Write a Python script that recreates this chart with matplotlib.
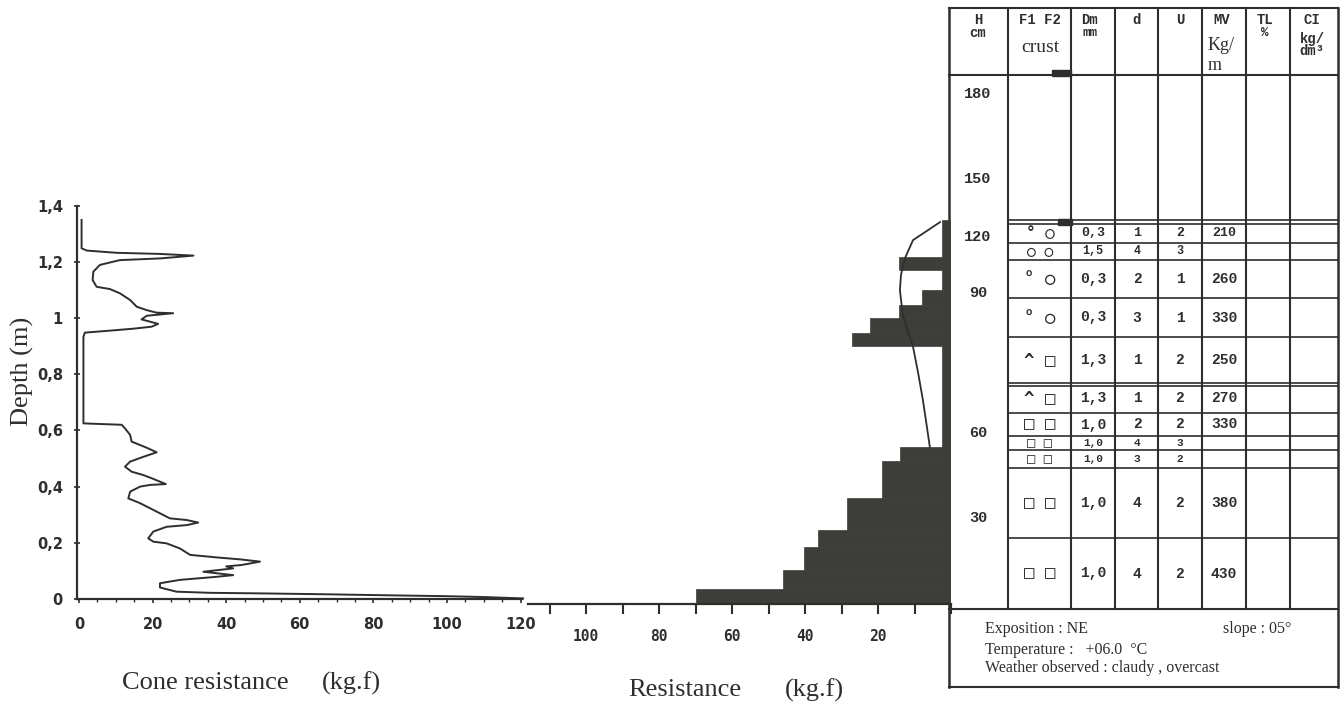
import matplotlib.pyplot as plt
from matplotlib.patches import Rectangle
from matplotlib.ticker import MultipleLocator

plt.rcParams['font.family'] = ['DejaVu Sans']

# cone penetrometer trace (resistance kg.f, depth m)
cone_res = [0.7, 0.7, 2.1, 10.2, 22.0, 31.1, 22.0, 11.1, 5.7, 3.9, 3.7, 4.8, 8.4, 11.1,
            13.9, 15.7, 18.4, 21.1, 25.6, 18.4, 17.0, 19.3, 21.5, 19.7, 14.8, 8.4, 1.6,
            1.2, 1.2, 11.6, 12.5, 13.9, 14.3, 16.6, 18.8, 21.1, 17.5, 13.9, 12.5, 14.3,
            17.5, 19.7, 23.6, 19.3, 16.6, 13.9, 13.4, 16.6, 19.3, 22.0, 24.7, 29.3, 32.4,
            29.3, 23.8, 20.2, 18.8, 20.2, 23.8, 27.4, 30.2, 37.4, 43.8, 49.2, 44.2, 40.0,
            41.9, 33.8, 41.9, 37.4, 27.4, 22.0, 22.0, 26.5, 35.6, 49.2, 66.0, 85.0, 100.0,
            110.0, 120.7]
cone_depth = [1.349, 1.248, 1.240, 1.232, 1.228, 1.222, 1.212, 1.206, 1.189, 1.165, 1.135,
              1.111, 1.103, 1.088, 1.064, 1.040, 1.028, 1.019, 1.017, 1.008, 0.995, 0.987,
              0.979, 0.969, 0.962, 0.955, 0.948, 0.933, 0.625, 0.620, 0.607, 0.584, 0.560,
              0.548, 0.536, 0.522, 0.506, 0.489, 0.471, 0.453, 0.441, 0.430, 0.409, 0.406,
              0.400, 0.382, 0.358, 0.341, 0.323, 0.305, 0.287, 0.281, 0.272, 0.263, 0.257,
              0.240, 0.216, 0.204, 0.198, 0.180, 0.157, 0.148, 0.141, 0.133, 0.121, 0.116,
              0.109, 0.097, 0.085, 0.079, 0.068, 0.056, 0.041, 0.026, 0.022, 0.020, 0.017,
              0.013, 0.010, 0.007, 0.002]

# ram resistance layers
layer_bottom = [0.000, 0.053, 0.121, 0.203, 0.263, 0.377, 0.509, 0.559, 0.918, 0.964,
                1.018, 1.064, 1.117, 1.189, 1.235]
layer_top = layer_bottom[1:] + [1.367]
layer_res = [70, 46, 40.3, 36.4, 28.5, 18.9, 14.0, 2.5, 27.1, 22.2, 14.2, 7.9, 2.5, 14.2, 2.5]

# line drawn over the ram profile
curve_res = [3.0, 10.4, 12.6, 13.7, 14.0, 13.2, 10.4, 9.0, 7.7, 6.6, 5.8]
curve_depth = [1.359, 1.295, 1.231, 1.171, 1.117, 1.028, 0.915, 0.822, 0.726, 0.630, 0.559]

depth_ticks = [0, 0.2, 0.4, 0.6, 0.8, 1.0, 1.2, 1.4]
depth_ticklabels = ['0', '0,2', '0,4', '0,6', '0,8', '1', '1,2', '1,4']
cone_ticks = [0, 20, 40, 60, 80, 100, 120]
ram_ticks = [20, 40, 60, 80, 100]

# stratigraphy table
h_marks = ['180', '150', '120', '90', '60', '30']
crust = ['° ○', '○ ○', '° ○', '° ○', '^ □', '^ □', '□ □', '□ □', '□ □', '□ □', '□ □']
dm_vals = ['0,3', '1,5', '0,3', '0,3', '1,3', '1,3', '1,0', '1,0', '1,0', '1,0', '1,0']
d_vals = ['1', '4', '2', '3', '1', '1', '2', '4', '3', '4', '4']
u_vals = ['2', '3', '1', '1', '2', '2', '2', '3', '2', '2', '2']
mv_vals = ['210', '', '260', '330', '250', '270', '330', '', '', '380', '430']

W, H = 1342, 702
INK = '#2e2e2c'
BAR = '#3d3d39'


def rect(x0, y0, x1, y1):
    # pixel box (top-left origin) -> figure fraction
    return [x0 / W, 1 - y1 / H, (x1 - x0) / W, (y1 - y0) / H]


fig = plt.figure(figsize=(W / 100, H / 100), dpi=100)

# ---- table (drawn in pixel units) ----
tb = fig.add_axes([0, 0, 1, 1])
tb.set_xlim(0, W)
tb.set_ylim(H, 0)
tb.axis('off')

tx0, tx1, ty0, ty1, foot1 = 949, 1338, 8, 609, 687
cols = [1008, 1071, 1115, 1158, 1202, 1246, 1290]
row_edges = [224, 243, 260, 298, 337, 383, 413, 436, 450, 468, 538]
row_fs = [9.5, 8.5, 10.5, 10.5, 10.5, 10.5, 10.5, 8, 8, 10.5, 10.5]
extra_lines = [220, 386]
lw = 1.5
tb.plot([tx0, tx0], [ty0, foot1], color=INK, lw=1.8)
tb.plot([tx1, tx1], [ty0, foot1], color=INK, lw=1.8)
tb.plot([tx0, tx1], [ty0, ty0], color=INK, lw=lw)
tb.plot([tx0, tx1], [75, 75], color=INK, lw=lw)
tb.plot([tx0, tx1], [ty1, ty1], color=INK, lw=lw)
tb.plot([tx0, tx1], [foot1, foot1], color=INK, lw=lw)
for c in cols:
    tb.plot([c, c], [ty0, ty1], color=INK, lw=lw)
for y in row_edges + extra_lines:
    tb.plot([cols[0], tx1], [y, y], color=INK, lw=1.2)
tb.add_patch(Rectangle((1052, 70), 19, 6, color=INK))
tb.add_patch(Rectangle((1058, 219), 14, 6, color=INK))

mono = dict(family='Liberation Mono', weight='bold', color=INK, ha='center', va='center')
serif = dict(family='Liberation Serif', color=INK, va='center')
tb.text(978, 20, 'H', fontsize=10, **mono)
tb.text(978, 33, 'cm', fontsize=10, **mono)
tb.text(1040, 20, 'F1 F2', fontsize=10, **mono)
tb.text(1040, 47, 'crust', fontsize=14, ha='center', **serif)
tb.text(1090, 20, 'Dm', fontsize=10, **mono)
tb.text(1090, 33, 'mm', fontsize=9, **mono)
tb.text(1137, 20, 'd', fontsize=10, **mono)
tb.text(1180, 20, 'U', fontsize=10, **mono)
tb.text(1222, 20, 'MV', fontsize=10, **mono)
tb.text(1208, 45, 'Kg/', fontsize=13, ha='left', **serif)
tb.text(1208, 66, 'm', fontsize=13, ha='left', **serif)
tb.text(1265, 20, 'TL', fontsize=10, **mono)
tb.text(1265, 33, '%', fontsize=9, **mono)
tb.text(1312, 20, 'CI', fontsize=10, **mono)
tb.text(1312, 39, 'kg/', fontsize=10, **mono)
tb.text(1312, 51, 'dm³', fontsize=10, **mono)

h_pos = [94, 179, 237, 293, 433, 518]
for lab, y in zip(h_marks, h_pos):
    tb.text(978, y, lab, fontsize=11, **mono)

row_mid = [(a + b) / 2 for a, b in zip(row_edges, row_edges[1:] + [ty1])]
for i, y in enumerate(row_mid):
    fs = row_fs[i]
    tb.text(1040, y, crust[i], fontsize=fs + 2, family=['DejaVu Sans Mono', 'DejaVu Sans'],
            weight='bold', color=INK, ha='center', va='center')
    tb.text(1093, y, dm_vals[i], fontsize=fs, **mono)
    tb.text(1137, y, d_vals[i], fontsize=fs, **mono)
    tb.text(1180, y, u_vals[i], fontsize=fs, **mono)
    tb.text(1224, y, mv_vals[i], fontsize=fs, **mono)

tb.text(985, 629, 'Exposition : NE', fontsize=11.5, ha='left', **serif)
tb.text(1223, 629, 'slope : 05°', fontsize=11.5, ha='left', **serif)
tb.text(985, 650, 'Temperature :   +06.0  °C', fontsize=11.5, ha='left', **serif)
tb.text(985, 668, 'Weather observed : claudy , overcast', fontsize=11.5, ha='left', **serif)

# ---- cone resistance profile ----
ax = fig.add_axes(rect(76.8, 205.6, 522.4, 599))
ax.plot(cone_res, cone_depth, color=INK, lw=1.4, clip_on=False)
ax.set_xlim(-0.6, 120.5)
ax.set_ylim(0, 1.4)
for s in ['top', 'right']:
    ax.spines[s].set_visible(False)
for s in ['left', 'bottom']:
    ax.spines[s].set_color(INK)
    ax.spines[s].set_linewidth(1.6)
ax.set_xticks(cone_ticks)
ax.xaxis.set_minor_locator(MultipleLocator(5))
ax.set_yticks(depth_ticks)
ax.set_yticklabels(depth_ticklabels)
ax.tick_params(axis='x', direction='out', length=3, width=1.2, pad=10, colors=INK,
               labelsize=10.5)
ax.tick_params(axis='x', which='minor', direction='out', length=2.5, width=1.0, colors=INK)
ax.tick_params(axis='y', direction='inout', length=4, width=1.2, pad=8, colors=INK,
               labelsize=10.5)
for t in ax.get_xticklabels() + ax.get_yticklabels():
    t.set_fontweight('bold')
ax.patch.set_alpha(0)

# ---- ram resistance profile ----
rx = fig.add_axes(rect(527.6, 210.6, 951, 604))
heights = [t - b for b, t in zip(layer_bottom, layer_top)]
rx.barh(layer_bottom, layer_res, height=heights, left=0, align='edge', color=BAR,
        edgecolor=BAR, lw=0.5)
rx.plot(curve_res, curve_depth, color=INK, lw=1.3)
rx.set_xlim(116, 0)
rx.set_ylim(0, 1.4)
for s in ['top', 'right', 'left']:
    rx.spines[s].set_visible(False)
rx.spines['bottom'].set_color(INK)
rx.spines['bottom'].set_linewidth(1.6)
rx.set_xticks(ram_ticks)
rx.xaxis.set_minor_locator(MultipleLocator(10))
rx.set_yticks([])
rx.tick_params(axis='x', which='both', direction='out', length=7, width=1.5, pad=11,
               colors=INK, labelsize=10.5)
for t in rx.get_xticklabels():
    t.set_fontweight('bold')
    t.set_family('DejaVu Sans Mono')
rx.patch.set_alpha(0)

# ---- axis titles ----
lab = dict(family='Liberation Serif', fontsize=19, color=INK, va='center')
fig.text(22 / W, 1 - 371 / H, 'Depth (m)', rotation=90, ha='center', **lab)
fig.text(122 / W, 1 - 683 / H, 'Cone resistance', ha='left', **lab)
fig.text(322 / W, 1 - 683 / H, '(kg.f)', ha='left', **lab)
fig.text(628 / W, 1 - 690 / H, 'Resistance', ha='left', **lab)
fig.text(785 / W, 1 - 690 / H, '(kg.f)', ha='left', **lab)

fig.savefig('out.png', dpi=100, facecolor='white')
